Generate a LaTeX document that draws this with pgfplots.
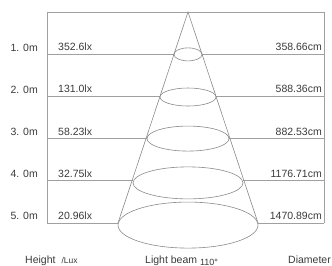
\documentclass[border=0pt]{standalone}
\usepackage{pgfplots}
\pgfplotsset{compat=1.18}
\usepackage{pgfplotstable}
\usepackage{fontspec}
\setmainfont{Liberation Sans}
\definecolor{ln}{HTML}{A0A0A0}
\definecolor{cn}{HTML}{8A8A8A}
\definecolor{tx}{HTML}{3A3A3A}
\pgfplotstableread[col sep=comma]{
h,hl,lux,diam,rx,ry
1,1. 0m,352.6lx,358.66cm,14,6.5
2,2. 0m,131.0lx,588.36cm,28,9
3,3. 0m,58.23lx,882.53cm,41,12.5
4,4. 0m,32.75lx,1176.71cm,55,16
5,5. 0m,20.96lx,1470.89cm,70,23
}\data
\begin{document}
\begin{tikzpicture}
\begin{axis}[
  name=ax,
  scale only axis, width=332bp, height=266bp,
  xmin=-188, xmax=144, ymin=-0.284, ymax=6.0196,
  y dir=reverse, hide axis, clip=false,
]
% frame
\addplot[ln, line width=0.6bp] coordinates {(-141,5) (-141,0) (136,0) (136,5)};
% level lines (left and right of the beam)
\addplot[ln, line width=0.6bp] coordinates {(-141,1) (-14,1)};
\addplot[ln, line width=0.6bp] coordinates {(14,1) (136,1)};
\addplot[ln, line width=0.6bp] coordinates {(-141,2) (-28,2)};
\addplot[ln, line width=0.6bp] coordinates {(28,2) (136,2)};
\addplot[ln, line width=0.6bp] coordinates {(-141,3) (-41,3)};
\addplot[ln, line width=0.6bp] coordinates {(41,3) (136,3)};
\addplot[ln, line width=0.6bp] coordinates {(-141,4) (-55,4)};
\addplot[ln, line width=0.6bp] coordinates {(55,4) (136,4)};
\addplot[ln, line width=0.6bp] coordinates {(-141,5) (-70,5)};
\addplot[ln, line width=0.6bp] coordinates {(70,5) (136,5)};
% cone
\addplot[cn, line width=0.6bp] coordinates {(-70,5) (0,0) (70,5)};
\draw[cn, line width=0.6bp] (axis cs:0,1.005) ellipse [x radius=14bp, y radius=6.5bp];
\draw[cn, line width=0.6bp] (axis cs:0,2.015) ellipse [x radius=28bp, y radius=9bp];
\draw[cn, line width=0.6bp] (axis cs:0,3.0) ellipse [x radius=41bp, y radius=12.5bp];
\draw[cn, line width=0.6bp] (axis cs:0,4.05) ellipse [x radius=55bp, y radius=16bp];
\draw[cn, line width=0.6bp] (axis cs:0,5.05) ellipse [x radius=70bp, y radius=23bp];
% labels
\addplot[draw=none, nodes near coords, point meta=explicit symbolic,
  every node near coord/.style={anchor=east, inner sep=0pt, text=tx, font=\fontsize{10.5bp}{12bp}\selectfont}]
  table[x expr=-150, y expr=\thisrow{h}-0.16, meta=hl] {\data};
\addplot[draw=none, nodes near coords, point meta=explicit symbolic,
  every node near coord/.style={anchor=west, inner sep=0pt, text=tx, font=\fontsize{10.5bp}{12bp}\selectfont}]
  table[x expr=-130, y expr=\thisrow{h}-0.17, meta=lux] {\data};
\addplot[draw=none, nodes near coords, point meta=explicit symbolic,
  every node near coord/.style={anchor=east, inner sep=0pt, text=tx, font=\fontsize{10.5bp}{12bp}\selectfont}]
  table[x expr=134, y expr=\thisrow{h}-0.17, meta=diam] {\data};
% bottom captions
\node[anchor=base west, inner sep=0pt, text=tx, font=\fontsize{10.5bp}{12bp}\selectfont] at (axis cs:-163,5.95) {Height\hspace{6bp}{\fontsize{8.5bp}{9bp}\selectfont /Lux}};
\node[anchor=base west, inner sep=0pt, text=tx, font=\fontsize{10.5bp}{12bp}\selectfont] at (axis cs:-43,5.95) {Light beam {\fontsize{9bp}{9bp}\selectfont\raisebox{-2.5bp}{110°}}};
\node[anchor=base west, inner sep=0pt, text=tx, font=\fontsize{10.5bp}{12bp}\selectfont] at (axis cs:100,5.95) {Diameter};
\end{axis}
\pgfresetboundingbox
\path (ax.south west) rectangle (ax.north east);
\end{tikzpicture}
\end{document}
